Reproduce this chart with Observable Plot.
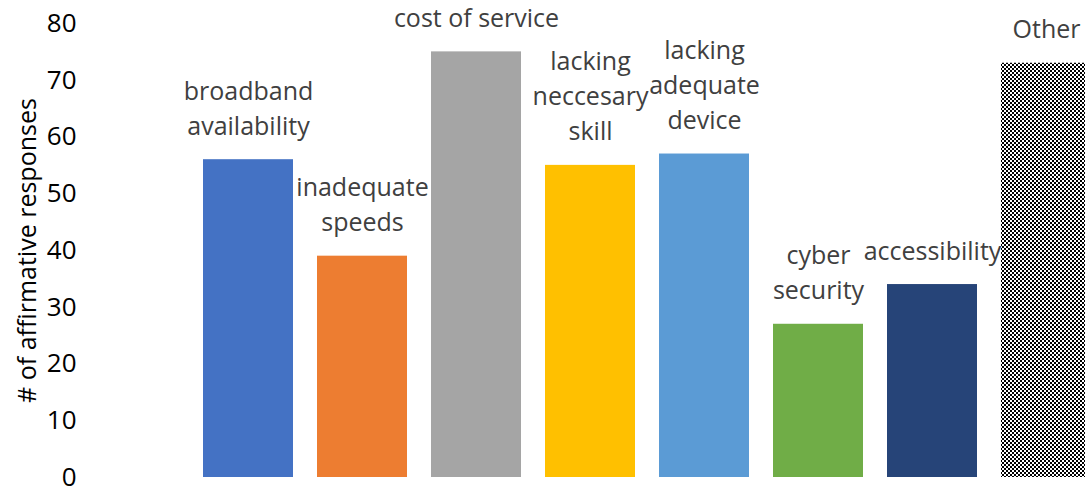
<!DOCTYPE html>
<html>
<head>
<meta charset="utf-8">
<script src="https://cdn.jsdelivr.net/npm/d3@7"></script>
<script src="https://cdn.jsdelivr.net/npm/@observablehq/plot@0.6"></script>
<style>
  html, body { margin: 0; padding: 0; background: #fff; overflow: hidden; }
  #chart svg { display: block; }
</style>
</head>
<body>
<div id="chart"></div>
<script>
const categories = ["broadband\navailability", "inadequate\nspeeds", "cost of service", "lacking\nneccesary\nskill", "lacking\nadequate\ndevice", "cyber\nsecurity", "accessibility", "Other"];
const values = [56, 39, 75, 55, 57, 27, 34, 73];
const colors = ["#4472C4", "#ED7D31", "#A5A5A5", "#FFC000", "#5B9BD5", "#70AD47", "#264478", "url(#checker)"];
const yTicks = [0, 10, 20, 30, 40, 50, 60, 70, 80];

const data = categories.map((c, i) => ({category: c, value: values[i], color: colors[i]}));

const defs = () => {
  const g = d3.create("svg:defs");
  const p = g.append("pattern").attr("id", "checker").attr("patternUnits", "userSpaceOnUse")
    .attr("width", 4).attr("height", 4);
  p.append("rect").attr("width", 4).attr("height", 4).attr("fill", "#fff");
  p.append("rect").attr("x", 0).attr("y", 0).attr("width", 2).attr("height", 2).attr("fill", "#000");
  p.append("rect").attr("x", 2).attr("y", 2).attr("width", 2).attr("height", 2).attr("fill", "#000");
  return g.node();
};

const chart = Plot.plot({
  width: 1085,
  height: 487,
  marginLeft: 80,
  marginRight: 0,
  marginTop: 23,
  marginBottom: 10,
  style: {fontFamily: "'Open Sans', sans-serif", fontSize: "25px", color: "#000", background: "#fff"},
  x: {domain: categories, range: [191, 1103], paddingInner: 24 / 114, paddingOuter: 12 / 114, axis: null},
  y: {domain: [0, 80]},
  color: {type: "identity"},
  marks: [
    defs,
    Plot.barY(data, {x: "category", y: "value", fill: "color"}),
    Plot.axisY({ticks: yTicks, tickSize: 0, tickPadding: 4, label: null, fontSize: 26, fill: "#000"}),
    Plot.text(["# of affirmative responses"], {frameAnchor: "left", textAnchor: "middle", dx: -53, rotate: -90, fontSize: 25, fill: "#000"}),
    Plot.text(data, {x: "category", y: "value", text: "category", lineAnchor: "bottom", dy: -25, lineHeight: 1.4, fontSize: 25, fill: "#404040"})
  ]
});
document.getElementById("chart").appendChild(chart);
</script>
</body>
</html>
